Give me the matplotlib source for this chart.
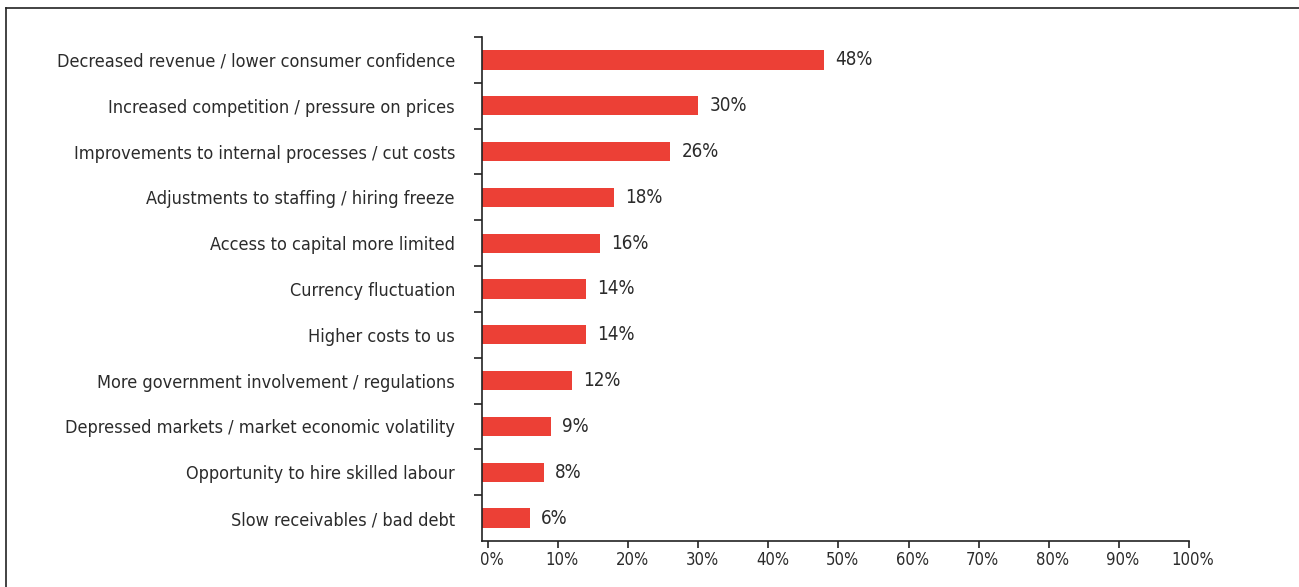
import matplotlib.pyplot as plt
from matplotlib.lines import Line2D
from matplotlib import font_manager
import matplotlib.transforms as mtransforms

categories = [
    'Decreased revenue / lower consumer confidence',
    'Increased competition / pressure on prices',
    'Improvements to internal processes / cut costs',
    'Adjustments to staffing / hiring freeze',
    'Access to capital more limited',
    'Currency fluctuation',
    'Higher costs to us',
    'More government involvement / regulations',
    'Depressed markets / market economic volatility',
    'Opportunity to hire skilled labour',
    'Slow receivables / bad debt',
]
values = [48, 30, 26, 18, 16, 14, 14, 12, 9, 8, 6]
xticks = [0, 10, 20, 30, 40, 50, 60, 70, 80, 90, 100]

bar_color = '#EC4036'
text_color = '#2b2b2b'
line_color = '#222222'

# prefer a narrow face if one is installed
fonts = font_manager.fontManager.ttflist
names = {f.name for f in fonts}
stretch = 'normal'
if 'Liberation Sans Narrow' in names:
    family = 'Liberation Sans Narrow'
elif any(f.name == 'DejaVu Sans' and 'ondensed' in f.fname for f in fonts):
    family = 'DejaVu Sans'
    stretch = 'condensed'
else:
    family = 'Liberation Sans'
plt.rcParams['font.family'] = [family, 'DejaVu Sans']
plt.rcParams['font.stretch'] = stretch

fig = plt.figure(figsize=(12.99, 5.87), dpi=100)
ax = fig.add_axes([482 / 1299, 1 - 541 / 587, (1189 - 482) / 1299, (541 - 37) / 587])

x0 = -0.85
ax.set_xlim(x0, 100)
ax.set_ylim(len(categories) - 0.5, -0.5)

ypos = list(range(len(categories)))
ax.barh(ypos, [v - x0 for v in values], left=x0, height=0.42, color=bar_color)

for y, v in zip(ypos, values):
    ax.annotate(f'{v}%', xy=(v, y), xytext=(8, 0), textcoords='offset points',
                va='center', ha='left', fontsize=13.5, color=text_color)

ax.set_yticks(ypos)
ax.set_yticklabels(categories, fontsize=13, color=text_color)
ax.set_yticks([y - 0.5 for y in ypos], minor=True)
ax.tick_params(axis='y', which='major', length=0, pad=19.5)
ax.tick_params(axis='y', which='minor', length=6, width=1.2, color=line_color, direction='out')

ax.set_xticks(xticks)
ax.set_xticklabels([f'{t}%' for t in xticks], fontsize=12, color=text_color)
ax.tick_params(axis='x', length=5, width=1.2, color=line_color, pad=2)
shift = mtransforms.ScaledTranslation(4 / 100, 0, fig.dpi_scale_trans)
for lbl in ax.get_xticklabels():
    lbl.set_transform(lbl.get_transform() + shift)

for side in ['top', 'right']:
    ax.spines[side].set_visible(False)
for side in ['left', 'bottom']:
    ax.spines[side].set_color(line_color)
    ax.spines[side].set_linewidth(1.2)

# frame lines along the left and top edges
fig.add_artist(Line2D([6 / 1299, 6 / 1299], [0, 1 - 8 / 587], transform=fig.transFigure,
                      color=line_color, linewidth=1.2))
fig.add_artist(Line2D([6 / 1299, 1], [1 - 8 / 587, 1 - 8 / 587], transform=fig.transFigure,
                      color=line_color, linewidth=1.2))

fig.savefig('out.png', dpi=100, facecolor='white')
